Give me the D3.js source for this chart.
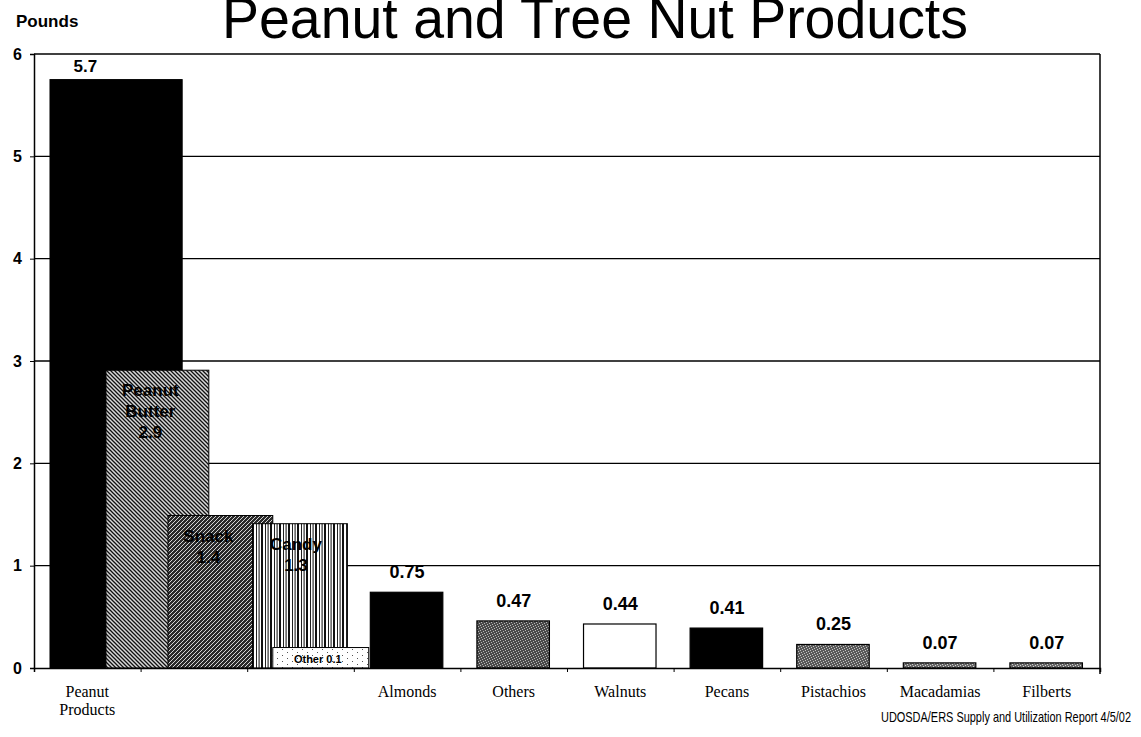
<!DOCTYPE html>
<html>
<head>
<meta charset="utf-8">
<script src="https://cdn.jsdelivr.net/npm/d3@7"></script>
<style>
  body { margin: 0; background: #fff; }
  svg { display: block; }
</style>
</head>
<body>
<div id="chart"></div>
<script>
// peanut products, drawn as overlapping pieces in the first three slots
const peanutParts = ["Peanut Products", "Peanut Butter", "Snack", "Candy", "Other"];
const peanutValues = [5.75, 2.91, 1.49, 1.41, 0.2];
const peanutLabels = [["5.7"], ["Peanut", "Butter", "2.9"], ["Snack", "1.4"], ["Candy", "1.3"], ["Other  0.1"]];

// tree nuts, one per slot after the peanut block
const nuts = ["Almonds", "Others", "Walnuts", "Pecans", "Pistachios", "Macadamias", "Filberts"];
const nutValues = [0.74, 0.46, 0.43, 0.39, 0.23, 0.05, 0.05];
const nutLabels = ["0.75", "0.47", "0.44", "0.41", "0.25", "0.07", "0.07"];

const yTicks = [0, 1, 2, 3, 4, 5, 6];

const width = 1141, height = 737;
const margin = {top: 54, right: 41, bottom: 69, left: 34};

// layout only: where each peanut piece sits, in slot units
const peanutSpans = [[0.15, 1.39], [0.675, 1.64], [1.257, 2.24], [2.05, 2.94], [2.24, 3.14]];
const peanutFills = ["#000", "url(#hatchBack)", "url(#hatchFwd)", "url(#vstripe)", "url(#speckle)"];
const nutFills = ["#000", "url(#stipDark)", "#fff", "#000", "url(#stipMid)", "url(#stipLight)", "url(#stipLight)"];

const svg = d3.select("#chart").append("svg")
  .attr("width", width).attr("height", height);

// patterns to mimic the scanned fills
const defs = svg.append("defs");
const hb = defs.append("pattern").attr("id", "hatchBack").attr("patternUnits", "userSpaceOnUse")
  .attr("width", 4).attr("height", 4);
hb.append("rect").attr("width", 4).attr("height", 4).attr("fill", "#d8d8d8");
hb.append("path").attr("d", "M-1,-1 L5,5 M-1,3 L1,5 M3,-1 L5,1").attr("stroke", "#111").attr("stroke-width", 1.3);

const hf = defs.append("pattern").attr("id", "hatchFwd").attr("patternUnits", "userSpaceOnUse")
  .attr("width", 4).attr("height", 4);
hf.append("rect").attr("width", 4).attr("height", 4).attr("fill", "#2a2a2a");
hf.append("path").attr("d", "M-1,5 L5,-1 M-1,1 L1,-1 M3,5 L5,3").attr("stroke", "#e8e8e8").attr("stroke-width", 0.9);

const vs = defs.append("pattern").attr("id", "vstripe").attr("patternUnits", "userSpaceOnUse")
  .attr("width", 9).attr("height", 9);
vs.append("rect").attr("width", 9).attr("height", 9).attr("fill", "#fff");
vs.append("rect").attr("x", 0).attr("width", 2).attr("height", 9).attr("fill", "#111");
vs.append("rect").attr("x", 4).attr("width", 1).attr("height", 9).attr("fill", "#222");
vs.append("rect").attr("x", 6.5).attr("width", 1.2).attr("height", 9).attr("fill", "#333");

const sp = defs.append("pattern").attr("id", "speckle").attr("patternUnits", "userSpaceOnUse")
  .attr("width", 10).attr("height", 6);
sp.append("rect").attr("width", 10).attr("height", 6).attr("fill", "#fff");
sp.append("rect").attr("x", 2).attr("y", 1).attr("width", 1).attr("height", 1).attr("fill", "#555");
sp.append("rect").attr("x", 7).attr("y", 4).attr("width", 1).attr("height", 1).attr("fill", "#555");

// grainy grey, dots placed so they don't line up into stripes
const stipple = (id, bg, dot) => {
  const p = defs.append("pattern").attr("id", id).attr("patternUnits", "userSpaceOnUse")
    .attr("width", 5).attr("height", 5);
  p.append("rect").attr("width", 5).attr("height", 5).attr("fill", bg);
  [[0, 0], [3, 1], [1, 2], [4, 3], [2, 4]].forEach(([px, py]) => {
    p.append("rect").attr("x", px).attr("y", py).attr("width", 1).attr("height", 1).attr("fill", dot);
  });
};
stipple("stipDark", "#4a4a4a", "#b8b8b8");
stipple("stipMid", "#5a5a5a", "#c4c4c4");
stipple("stipLight", "#6a6a6a", "#d0d0d0");

const x0 = margin.left, x1 = width - margin.right;
const y0 = height - margin.bottom, y1 = margin.top;

const slotScale = d3.scaleLinear().domain([0, 10]).range([x0, x1]);
const band = d3.scaleBand().domain(d3.range(10)).range([x0, x1]);
const y = d3.scaleLinear().domain([0, 6]).range([y0, y1]);

// gridlines
svg.append("g").selectAll("line")
  .data(yTicks.filter(t => t > 0))
  .join("line")
    .attr("x1", x0).attr("x2", x1)
    .attr("y1", d => y(d)).attr("y2", d => y(d))
    .attr("stroke", "#000").attr("stroke-width", 1.3);

// right border
svg.append("line").attr("x1", x1).attr("x2", x1).attr("y1", y(6)).attr("y2", y(0) + 6)
  .attr("stroke", "#000").attr("stroke-width", 1.5);

// peanut pieces
const peanutData = peanutParts.map((p, i) => ({
  name: p, value: peanutValues[i], span: peanutSpans[i], fill: peanutFills[i], label: peanutLabels[i]
}));

svg.append("g").selectAll("rect")
  .data(peanutData)
  .join("rect")
    .attr("x", d => slotScale(d.span[0]))
    .attr("width", d => slotScale(d.span[1]) - slotScale(d.span[0]))
    .attr("y", d => y(d.value))
    .attr("height", d => y(0) - y(d.value))
    .attr("fill", d => d.fill)
    .attr("stroke", "#000").attr("stroke-width", 1);

// tree nut bars
const nutData = nuts.map((n, i) => ({name: n, value: nutValues[i], label: nutLabels[i], slot: i + 3, fill: nutFills[i]}));
const bw = band.bandwidth();

svg.append("g").selectAll("rect")
  .data(nutData)
  .join("rect")
    .attr("x", d => band(d.slot) + bw * 0.155)
    .attr("width", bw * 0.68)
    .attr("y", d => y(d.value))
    .attr("height", d => y(0) - y(d.value))
    .attr("fill", d => d.fill)
    .attr("stroke", "#000").attr("stroke-width", 1.2);

// axes
const yAxis = svg.append("g")
  .attr("transform", `translate(${x0},0)`)
  .call(d3.axisLeft(y).tickValues(yTicks).tickSize(4).tickPadding(8).tickFormat(d3.format("d")));
yAxis.select(".domain").attr("stroke-width", 1.5);
yAxis.selectAll("text")
  .attr("font-family", "Liberation Sans, Arial, sans-serif")
  .attr("font-weight", "bold").attr("font-size", 16).attr("fill", "#000");

const xAxis = svg.append("g")
  .attr("transform", `translate(0,${y0})`)
  .call(d3.axisBottom(slotScale).tickValues(d3.range(11)).tickSize(4).tickFormat(""));
xAxis.select(".domain").attr("stroke-width", 1.5);

// value labels
const lab = svg.append("g")
  .attr("font-family", "Liberation Sans, Arial, sans-serif")
  .attr("font-weight", "bold").attr("text-anchor", "middle").attr("fill", "#000");

lab.append("text")
  .attr("x", band(0) + bw / 2 - 2)
  .attr("y", y(peanutValues[0]) - 8)
  .attr("font-size", 17)
  .text(peanutLabels[0][0]);

const labShift = [0, -7, -12, -4];
peanutData.slice(1, 4).forEach((d, i) => {
  const cx = (slotScale(d.span[0]) + slotScale(d.span[1])) / 2 + labShift[i + 1];
  const t = lab.append("text").attr("font-size", 17);
  d.label.forEach((line, j) => {
    t.append("tspan").attr("x", cx).attr("y", y(d.value) + 26 + j * 21).text(line);
  });
});

const other = peanutData[4];
lab.append("text")
  .attr("x", (slotScale(other.span[0]) + slotScale(other.span[1])) / 2 - 3)
  .attr("y", y(0) - 5)
  .attr("font-size", 11)
  .text(other.label[0]);

lab.selectAll(".nutlab")
  .data(nutData)
  .join("text")
    .attr("class", "nutlab")
    .attr("x", d => band(d.slot) + bw / 2)
    .attr("y", d => y(d.value) - 14)
    .attr("font-size", 18)
    .text(d => d.label);

// category labels (serif, like the original)
const cat = svg.append("g")
  .attr("font-family", "Liberation Serif, Times New Roman, serif")
  .attr("font-size", 16).attr("text-anchor", "middle").attr("fill", "#000");

const pp = cat.append("text");
["Peanut", "Products"].forEach((w, j) => {
  pp.append("tspan").attr("x", band(0) + bw / 2).attr("y", y0 + 29 + j * 18).text(w);
});

cat.selectAll(".nutcat")
  .data(nutData)
  .join("text")
    .attr("class", "nutcat")
    .attr("x", d => band(d.slot) + bw / 2)
    .attr("y", y0 + 29)
    .text(d => d.name);

// title, its top clipped by the page edge as in the scan
svg.append("text")
  .attr("x", 222).attr("y", 38)
  .attr("font-family", "Liberation Sans, Arial, sans-serif")
  .attr("font-size", 58)
  .attr("textLength", 746).attr("lengthAdjust", "spacingAndGlyphs")
  .text("Peanut and Tree Nut Products");

svg.append("text")
  .attr("x", 16).attr("y", 27)
  .attr("font-family", "Liberation Sans, Arial, sans-serif")
  .attr("font-weight", "bold").attr("font-size", 17)
  .text("Pounds");

// source line is condensed in the scan; squeeze it horizontally
svg.append("g")
  .attr("transform", "translate(1131,722) scale(0.73,1)")
  .append("text")
    .attr("text-anchor", "end")
    .attr("font-family", "Liberation Sans, Arial, sans-serif")
    .attr("font-size", 15)
    .text("UDOSDA/ERS Supply and Utilization Report 4/5/02");
</script>
</body>
</html>
